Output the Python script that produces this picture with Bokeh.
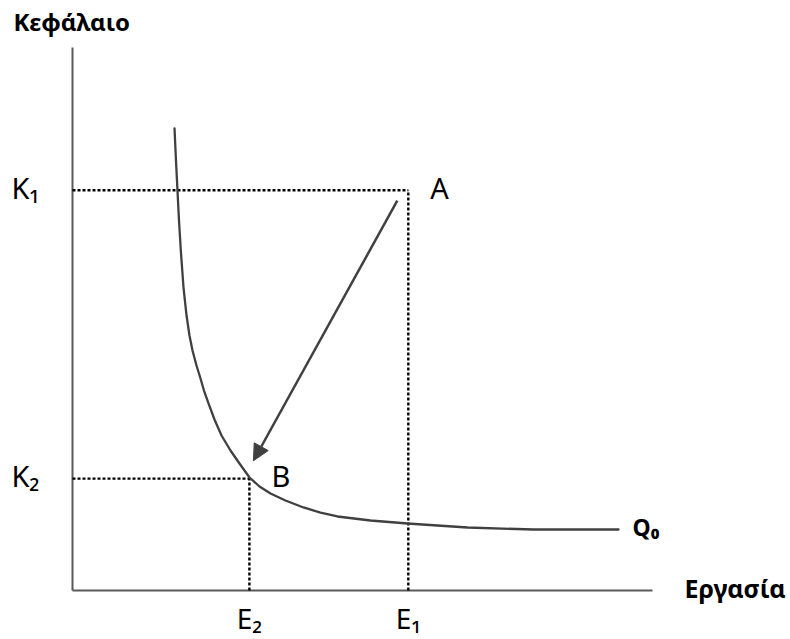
from bokeh.plotting import figure
from bokeh.models import Range1d, Arrow, NormalHead
from bokeh.core.properties import value
from bokeh.embed import file_html
from bokeh.resources import INLINE

# ---- data ----
curve_labor = [17.59, 17.84, 18.10, 18.36, 18.71, 19.14, 19.66, 20.17, 20.69, 21.38,
               22.07, 22.67, 23.45, 24.48, 25.69, 27.24, 28.79, 30.52, 32.24, 34.14,
               36.72, 39.83, 42.76, 45.69, 51.38, 57.76, 68.10, 79.48, 94.14]
curve_capital = [85.08, 79.19, 73.66, 68.14, 62.06, 55.80, 50.64, 46.96, 44.20, 41.44,
                 39.04, 36.83, 34.44, 31.49, 28.55, 25.78, 23.39, 20.81, 19.15, 17.86,
                 16.57, 15.29, 14.36, 13.63, 12.89, 12.34, 11.60, 11.23, 11.23]
curve_label = "Q₀"
K_levels = [73.7, 20.6]
K_labels = ["K₁", "K₂"]
E_levels = [57.9, 30.5]
E_labels = ["E₁", "E₂"]
point_labels = ["A", "B"]
arrow_start = [56.0, 71.8]
arrow_end = [31.2, 23.9]
axis_max = 100
y_title = "Κεφάλαιο"
x_title = "Εργασία"

FONT = value("Noto Sans")
INK = "#404040"

p = figure(width=790, height=639, output_backend="svg", toolbar_location=None,
           x_range=Range1d(-12.414, 123.793), y_range=Range1d(-9.024, 108.656),
           x_axis_type=None, y_axis_type=None, min_border=0)
p.outline_line_color = None
p.grid.visible = False

# axes
p.segment(x0=[0, 0], y0=[0, 0], x1=[axis_max, 0], y1=[0, axis_max],
          line_color="#595959", line_width=2)

# dotted guide lines
for k, e in zip(K_levels, E_levels):
    p.line([0, e], [k, k], line_color="black", line_width=2.4, line_dash="3 2")
    p.line([e, e], [0, k], line_color="black", line_width=2.4, line_dash="3 2")

# isoquant
p.line(curve_labor, curve_capital, line_color=INK, line_width=2.3,
       line_join="round", line_cap="round")

# arrow A -> B
p.add_layout(Arrow(x_start=arrow_start[0], y_start=arrow_start[1],
                   x_end=arrow_end[0], y_end=arrow_end[1],
                   line_color=INK, line_width=2.5,
                   end=NormalHead(size=16, fill_color=INK, line_color=INK)))

# tick-like labels
p.text(x=[0, 0], y=K_levels, text=K_labels, text_font=FONT, text_font_size="29px",
       text_align="right", text_baseline="alphabetic", x_offset=-33, y_offset=-3,
       text_color="black")
p.text(x=E_levels, y=[0, 0], text=E_labels, text_font=FONT, text_font_size="28px",
       text_align="center", text_baseline="alphabetic", x_offset=0, y_offset=28,
       text_color="black")
p.text(x=E_levels, y=K_levels, text=point_labels, text_font=FONT, text_font_size="29px",
       text_align="left", text_baseline="alphabetic", x_offset=22, y_offset=-3,
       text_color="black")
p.text(x=[curve_labor[-1]], y=[curve_capital[-1]], text=[curve_label], text_font=FONT,
       text_font_size="23px", text_font_style="bold", text_align="left",
       text_baseline="alphabetic", x_offset=14, y_offset=-3, text_color="black")

# axis titles
p.text(x=[0], y=[axis_max], text=[y_title], text_font=FONT, text_font_size="24px",
       text_font_style="bold", text_align="left", text_baseline="alphabetic",
       x_offset=-59, y_offset=-26, text_color="black")
p.text(x=[axis_max], y=[0], text=[x_title], text_font=FONT, text_font_size="25px",
       text_font_style="bold", text_align="left", text_baseline="alphabetic",
       x_offset=32, y_offset=-2, text_color="black")

open("out.html", "w").write(file_html(p, INLINE))
